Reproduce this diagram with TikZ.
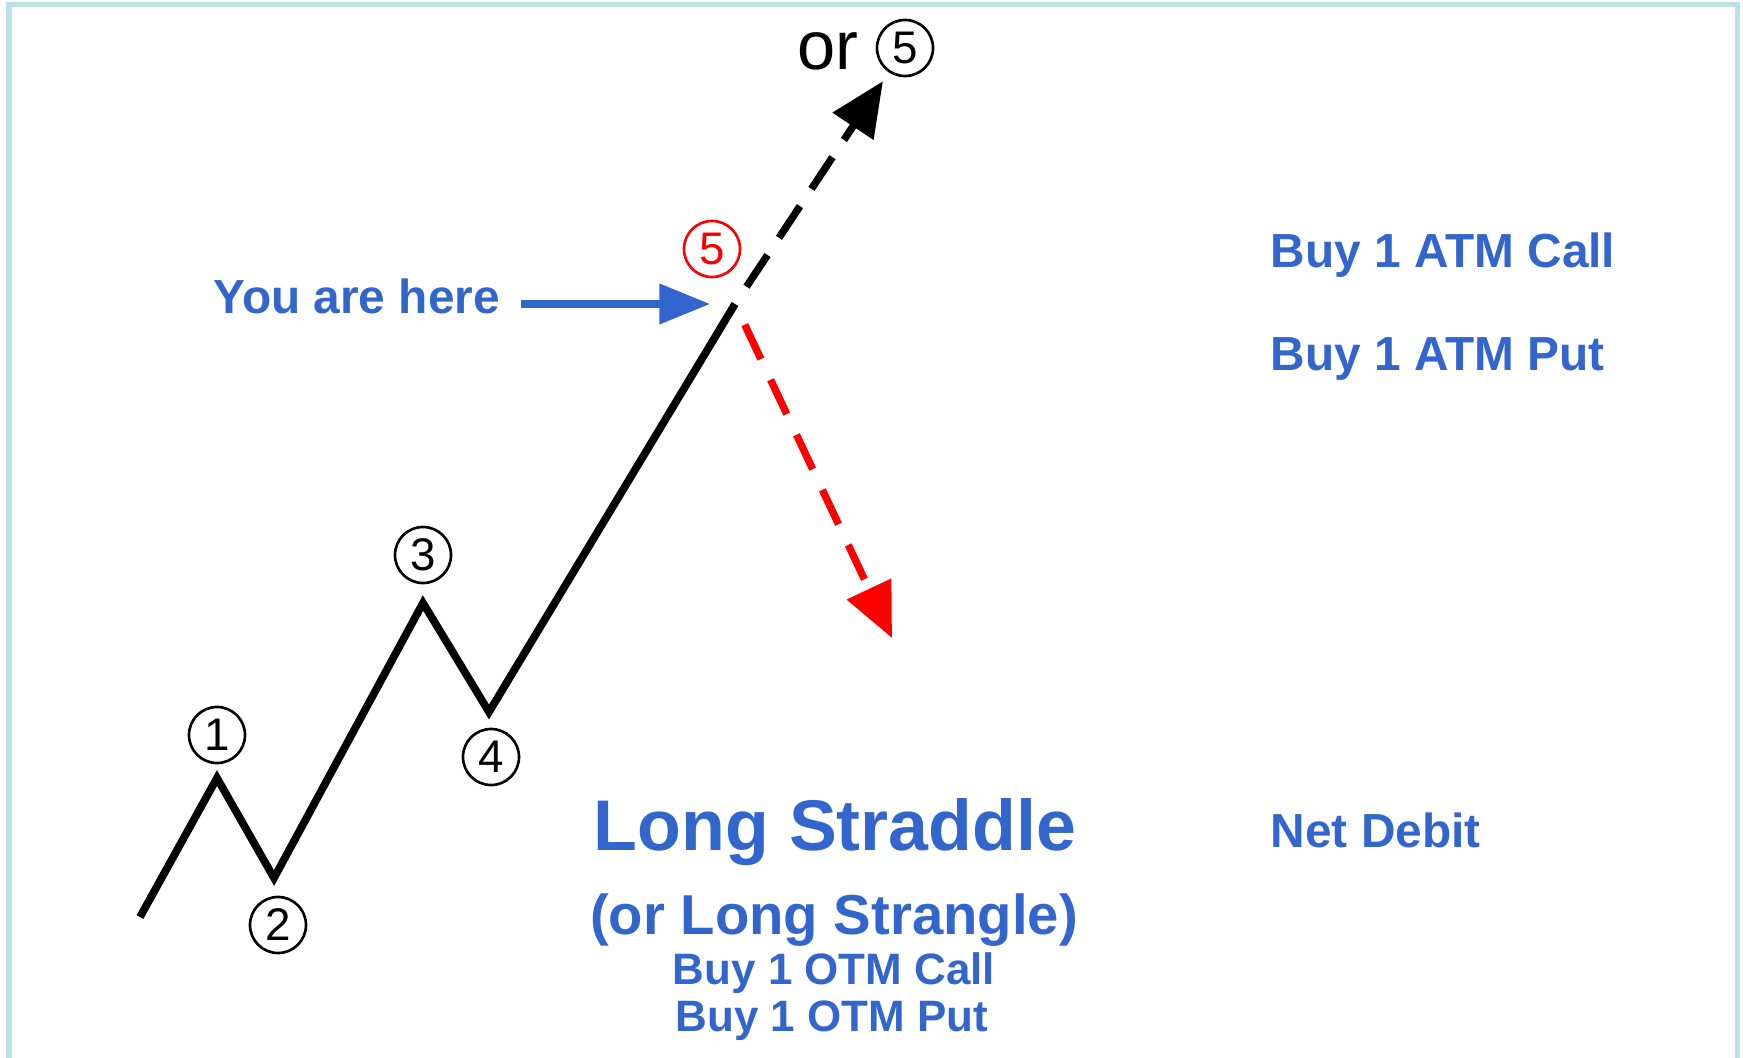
\documentclass[tikz,border=0pt]{standalone}
\usepackage{fontspec}
\setmainfont{Liberation Sans}
\usetikzlibrary{arrows.meta, positioning}
\definecolor{stratblue}{HTML}{3366CC}
\definecolor{framecyan}{HTML}{BDE2E6}

\begin{document}
\begin{tikzpicture}[x=0.01cm, y=-0.01cm,
    num/.style={circle, draw, line width=0.75pt, minimum size=0.56cm, inner sep=0pt,
      font=\fontsize{13}{13}\selectfont},
    wave/.style={line width=2.2pt, line join=miter},
    tag/.style={text=stratblue, font=\bfseries\fontsize{13.6}{16}\selectfont, inner sep=0pt},
    head/.style={-{Triangle[length=15.4pt, width=13.5pt]}},
  ]
  % --- page and frame -----------------------------------------------
  \fill[white] (0,0) rectangle (1743,1058);
  \useasboundingbox (0,0) rectangle (1743,1058);
  \draw[framecyan, line width=1.6pt] (9,1058) -- (9,4.5) -- (1737.5,4.5) -- (1737.5,1058);
  % --- the wave points ----------------------------------------------
  \coordinate (p0) at (140,917);
  \coordinate (p1) at (217,778);
  \coordinate (p2) at (274,878);
  \coordinate (p3) at (423,603);
  \coordinate (p4) at (489,712);
  \coordinate (here) at (735,304);
  \coordinate (down) at (892,638);
  \draw[wave] (p0) -- (p1) -- (p2) -- (p3) -- (p4) -- (here);
  % --- circled wave numbers -----------------------------------------
  \node[num] (n1) at ([shift={(0,-43)}]p1) {1};
  \node[num] (n2) at ([shift={(4,47)}]p2) {2};
  \node[num] (n3) at ([shift={(0,-48)}]p3) {3};
  \node[num] (n4) at ([shift={(2,45)}]p4) {4};
  \node[num, red] (n5) at ([shift={(-23,-55)}]here) {5};
  % --- the other way up ---------------------------------------------
  \node[anchor=base west, inner sep=0pt, font=\fontsize{19.5}{20}\selectfont] (ortxt) at (797,70) {or};
  \node[num] (alt5) at (905,48) {5};
  % --- the two ways on ----------------------------------------------
  \draw[head, line width=2.1pt, dash pattern=on 10.8pt off 5.9pt, dash phase=10.8pt,
    shorten >=3pt] (here) -- (alt5);
  \draw[head, red, line width=2.1pt, dash pattern=on 10.8pt off 6.5pt, dash phase=10.8pt]
    (here) -- (down);
  % --- you are here -------------------------------------------------
  \node[tag, anchor=base west] (youhere) at (213,314) {You are here};
  \draw[-{Triangle[length=14.5pt, width=11pt]}, stratblue, line width=2.3pt,
    shorten <=5.7pt, shorten >=7pt] (youhere.east |- here) -- (here);
  % --- the strategy on the right ------------------------------------
  \node[tag, anchor=base west] (atmcall) at (1270,268) {Buy 1 ATM Call};
  \node[tag, anchor=base west] (atmput) at (1270,370) {Buy 1 ATM Put};
  \node[tag, anchor=base west] (netdebit) at (1270,847) {Net Debit};
  % --- title block --------------------------------------------------
  \node[tag, anchor=base, font=\bfseries\fontsize{20.4}{22}\selectfont] (title) at (835,850) {Long Straddle};
  \node[tag, anchor=base, font=\bfseries\fontsize{16}{18}\selectfont] (subtitle) at (834,934) {(or Long Strangle)};
  \node[tag, anchor=base, font=\bfseries\fontsize{12.5}{14}\selectfont] (otmcall) at (834,984) {Buy 1 OTM Call};
  \node[tag, anchor=base, font=\bfseries\fontsize{12.5}{14}\selectfont] (otmput) at (832,1031) {Buy 1 OTM Put};
\end{tikzpicture}
\end{document}
